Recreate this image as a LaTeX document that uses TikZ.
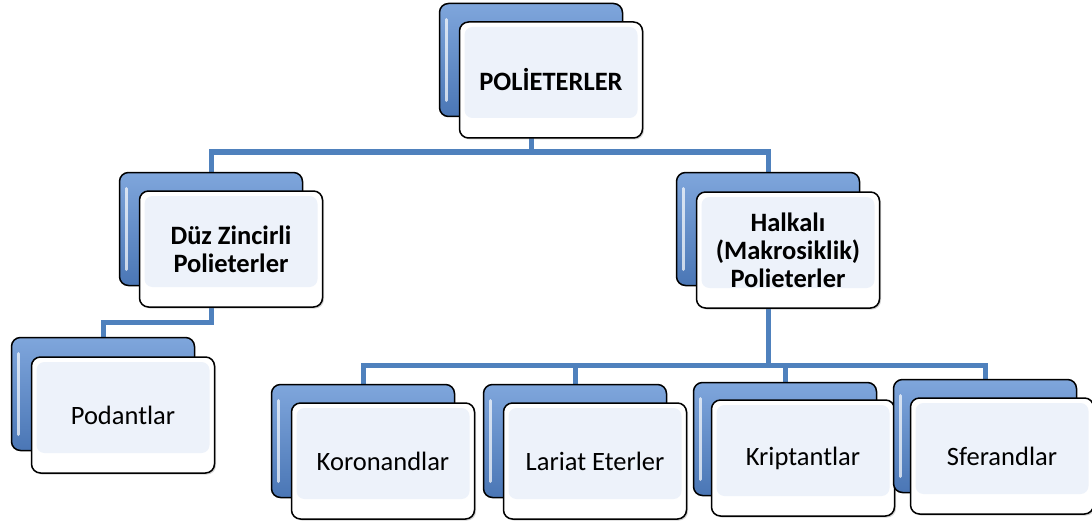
\documentclass[tikz,border=0pt]{standalone}
\usepackage{fontspec}
\setmainfont{Carlito}
\usetikzlibrary{shadows,backgrounds}
\definecolor{linkblue}{HTML}{4F81BD}
\definecolor{backtop}{HTML}{7FA6DC}
\definecolor{backbot}{HTML}{4A76B5}
\definecolor{frontfill}{HTML}{EDF2FA}
\tikzset{
  backbox/.style={draw=black, line width=1.5pt, rounded corners=9pt,
    top color=backtop, bottom color=backbot,
    minimum width=183pt, minimum height=113pt, inner sep=0pt,
    path picture={\draw[white, opacity=0.7, line width=3pt, line cap=round]
      ([xshift=7pt,yshift=-16pt]path picture bounding box.north west) --
      ([xshift=7pt,yshift=16pt]path picture bounding box.south west);}},
  frontbox/.style={draw=black, line width=1.5pt, rounded corners=9pt, fill=white,
    drop shadow={shadow xshift=1.5pt, shadow yshift=-1.5pt, opacity=0.35},
    minimum width=183pt, minimum height=116pt, inner sep=0pt, align=center,
    font=\fontsize{26.5}{28}\selectfont,
    path picture={\fill[frontfill, rounded corners=8pt]
      ([xshift=5pt,yshift=-5pt]path picture bounding box.north west) rectangle
      ([xshift=-5pt,yshift=20pt]path picture bounding box.south east);}},
  headbox/.style={frontbox, font=\fontsize{26.5}{28}\selectfont\bfseries},
  link/.style={draw=linkblue, line width=5pt},
}
\begin{document}
\begin{tikzpicture}[x=1pt, y=-1pt]
  \useasboundingbox (0,0) rectangle (1092,524);
  % boxes, back plate then front card
  \node[backbox] (polb) at (531,60) {};
  \node[headbox] (pol) at (551,80) {POLİETERLER};
  \node[backbox] (duzb) at (211,229) {};
  \node[headbox] (duz) at (231,249) {Düz Zincirli\\Polieterler};
  \node[backbox] (halb) at (768,229) {};
  \node[headbox] (hal) at (788,250) {Halkalı\\(Makrosiklik)\\Polieterler};
  \node[backbox] (podb) at (103,394) {};
  \node[frontbox] (pod) at (123,415) {Podantlar};
  \node[backbox] (korb) at (363,441) {};
  \node[frontbox] (kor) at (383,461) {Koronandlar};
  \node[backbox] (larb) at (575,441) {};
  \node[frontbox] (lar) at (595,461) {Lariat Eterler};
  \node[backbox] (krib) at (785,439) {};
  \node[frontbox] (kri) at (803,458) {Kriptantlar};
  \node[backbox] (sfeb) at (985,436) {};
  \node[frontbox] (sfe) at (1002,456) {Sferandlar};
  \coordinate (topbar) at (531,152);
  \coordinate (duzbar) at (211,322);
  \coordinate (halbar) at (768,365);
  \begin{scope}[on background layer]
    \draw[link] (polb.center) to (topbar);
    \draw[link] (duzb.center) |- (topbar) -| (halb.center);
    \draw[link] (duzb.center) -- (duzbar) -| (podb.center);
    \draw[link] (halb.center) to (halbar);
    \draw[link] (korb.center) |- (halbar) -| (sfeb.center);
    \draw[link] (larb.center) to (larb.center |- halbar);
    \draw[link] (krib.center) to (krib.center |- halbar);
  \end{scope}
\end{tikzpicture}
\end{document}
